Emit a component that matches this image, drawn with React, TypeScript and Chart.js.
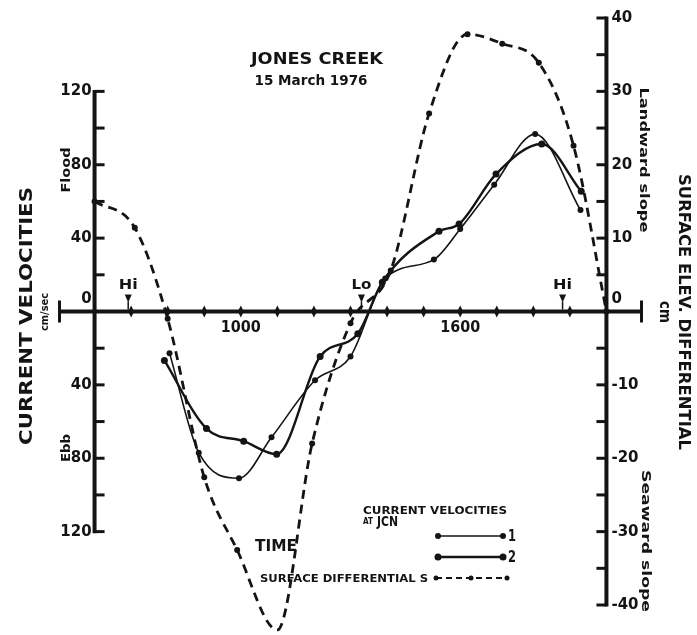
import React, { useEffect, useRef } from 'react';
import { Chart, registerables } from 'chart.js';

Chart.register(...registerables);

// ---- Data (time in decimal hours, 15 March 1976) ----
const surfaceTimes = [6.0, 7.1, 8.0, 9.0, 9.9, 11.0, 11.95, 13.0, 14.1, 15.15, 16.2, 17.15, 18.15, 19.1, 20.0];
const surfaceValues = [15, 11.4, -1, -22.6, -32.5, -43.4, -18, -1.6, 5.6, 27, 37.8, 36.5, 33.9, 22.6, 0];

const vel1Times = [8.05, 8.85, 9.95, 10.84, 12.03, 13.0, 13.95, 15.28, 16.0, 16.93, 18.05, 19.29];
const vel1Values = [-22.7, -77, -90.9, -68.6, -37.5, -24.5, 18, 28.3, 45, 69.1, 96.7, 55.3];

const vel2Times = [7.91, 9.06, 10.08, 10.98, 12.17, 13.2, 13.87, 15.42, 15.97, 16.98, 18.23, 19.31];
const vel2Values = [-26.7, -63.8, -70.7, -77.8, -24.5, -12.1, 16, 43.7, 47.7, 74.9, 91.3, 65.5];

const tideTimes = [6.92, 13.3, 18.8];
const tideLabels = ['Hi', 'Lo', 'Hi'];

const hourTicks = [7, 8, 9, 10, 11, 12, 13, 14, 15, 16, 17, 18, 19];
const hourLabelValues = [10, 16];
const hourLabels = ['1000', '1600'];

const leftTicks = [-120, -100, -80, -60, -40, -20, 0, 20, 40, 60, 80, 100, 120];
const leftLabelValues = [120, 80, 40, 0, -40, -80, -120];
const leftLabels = ['120', '80', '40', '0', '40', '80', '120'];

const rightTicks = [-40, -35, -30, -25, -20, -15, -10, -5, 0, 5, 10, 15, 20, 25, 30, 35, 40];
const rightLabelValues = [40, 30, 20, 10, 0, -10, -20, -30, -40];
const rightLabels = ['40', '30', '20', '10', '0', '-10', '-20', '-30', '-40'];

const X_MIN = 5, X_MAX = 21, LEFT_AXIS_AT = 6, RIGHT_AXIS_AT = 20;

const INK = '#141414';
const FONT = '"DejaVu Sans", sans-serif';

function txt(ctx: CanvasRenderingContext2D, s: string, x: number, y: number, o: any) {
  ctx.save();
  ctx.translate(x, y);
  if (o.rotate) ctx.rotate(o.rotate);
  ctx.font = `${o.weight || 'bold'} ${o.size}px ${o.family || FONT}`;
  ctx.textAlign = o.align || 'center';
  ctx.textBaseline = 'middle';
  ctx.fillStyle = INK;
  if (o.width) {
    const w = ctx.measureText(s).width;
    ctx.scale(o.width / w, 1);
  }
  ctx.fillText(s, 0, 0);
  ctx.restore();
}

const axesPlugin = {
  id: 'customAxes',
  beforeDatasetsDraw(chart: any) {
    const ctx: CanvasRenderingContext2D = chart.ctx;
    const xs = chart.scales.x, yL = chart.scales.yL, yR = chart.scales.yR;
    const y0 = yL.getPixelForValue(0);
    ctx.save();
    ctx.strokeStyle = INK;
    ctx.fillStyle = INK;
    ctx.lineCap = 'butt';

    // time axis
    const xa0 = xs.getPixelForValue(X_MIN), xa1 = xs.getPixelForValue(X_MAX);
    ctx.lineWidth = 4;
    ctx.beginPath(); ctx.moveTo(xa0, y0); ctx.lineTo(xa1, y0); ctx.stroke();
    ctx.lineWidth = 3;
    ctx.beginPath();
    ctx.moveTo(xa0 + 1.5, y0 - 11); ctx.lineTo(xa0 + 1.5, y0 + 11);
    ctx.moveTo(xa1 - 1.5, y0 - 11); ctx.lineTo(xa1 - 1.5, y0 + 11);
    ctx.stroke();
    hourTicks.forEach((t) => {
      const px = xs.getPixelForValue(t);
      ctx.beginPath();
      ctx.moveTo(px, y0 - 6); ctx.lineTo(px + 3, y0); ctx.lineTo(px, y0 + 6); ctx.lineTo(px - 3, y0);
      ctx.closePath(); ctx.fill();
    });

    // left axis
    const lx = xs.getPixelForValue(LEFT_AXIS_AT);
    ctx.lineWidth = 4;
    ctx.beginPath();
    ctx.moveTo(lx, yL.getPixelForValue(120) - 1.5);
    ctx.lineTo(lx, yL.getPixelForValue(-120) + 1.5);
    ctx.stroke();
    ctx.lineWidth = 3;
    leftTicks.forEach((v) => {
      if (v === 0) return;
      const py = yL.getPixelForValue(v);
      ctx.beginPath(); ctx.moveTo(lx, py); ctx.lineTo(lx + 10, py); ctx.stroke();
    });

    // right axis
    const rx = xs.getPixelForValue(RIGHT_AXIS_AT);
    ctx.lineWidth = 4;
    ctx.beginPath();
    ctx.moveTo(rx, yR.getPixelForValue(40) - 1.5);
    ctx.lineTo(rx, yR.getPixelForValue(-40) + 1.5);
    ctx.stroke();
    ctx.lineWidth = 3;
    rightTicks.forEach((v) => {
      if (v === 0) return;
      const py = yR.getPixelForValue(v);
      ctx.beginPath(); ctx.moveTo(rx, py); ctx.lineTo(rx - 10, py); ctx.stroke();
    });

    // tide markers
    tideTimes.forEach((t, i) => {
      const px = xs.getPixelForValue(t);
      ctx.beginPath();
      ctx.moveTo(px - 3.5, y0 - 17); ctx.lineTo(px + 3.5, y0 - 17); ctx.lineTo(px, y0 - 9);
      ctx.closePath(); ctx.fill();
      ctx.lineWidth = 1.5;
      ctx.beginPath(); ctx.moveTo(px, y0 - 10); ctx.lineTo(px, y0 - 2); ctx.stroke();
      txt(ctx, tideLabels[i], px, y0 - 26, { size: 14, width: tideLabels[i] === 'Hi' ? 19 : 20 });
    });
    ctx.restore();
  },
  afterDraw(chart: any) {
    const ctx: CanvasRenderingContext2D = chart.ctx;
    const xs = chart.scales.x, yL = chart.scales.yL, yR = chart.scales.yR;
    const y0 = yL.getPixelForValue(0);
    const lx = xs.getPixelForValue(LEFT_AXIS_AT);
    const rx = xs.getPixelForValue(RIGHT_AXIS_AT);

    // tick labels
    leftLabelValues.forEach((v, i) => {
      const py = yL.getPixelForValue(v) - (v === 0 ? 12 : 0);
      txt(ctx, leftLabels[i], lx - 3, py, { size: 15, align: 'right' });
    });
    rightLabelValues.forEach((v, i) => {
      const py = yR.getPixelForValue(v) - (v === 0 ? 12 : 0);
      txt(ctx, rightLabels[i], rx + 5, py, { size: 15, align: 'left' });
    });
    hourLabelValues.forEach((t, i) => {
      txt(ctx, hourLabels[i], xs.getPixelForValue(t), y0 + 17, { size: 15, width: 40 });
    });

    // titles
    txt(ctx, 'JONES CREEK', 317, 60, { size: 15, width: 132 });
    txt(ctx, '15 March 1976', 311, 81, { size: 14, width: 113 });
    txt(ctx, 'CURRENT VELOCITIES', 27, 316, { size: 18, rotate: -Math.PI / 2, width: 258 });
    txt(ctx, 'cm/sec', 45, 312, { size: 10, rotate: -Math.PI / 2, width: 38 });
    txt(ctx, 'Flood', 67, 170, { size: 13, rotate: -Math.PI / 2, width: 45 });
    txt(ctx, 'Ebb', 67, 448, { size: 13, rotate: -Math.PI / 2, width: 28 });
    txt(ctx, 'SURFACE ELEV. DIFFERENTIAL', 683, 312, { size: 16, rotate: Math.PI / 2, width: 276 });
    txt(ctx, 'cm', 664, 312, { size: 15, rotate: Math.PI / 2, width: 22 });
    txt(ctx, 'Landward slope', 643, 160, { size: 13, weight: '600', rotate: Math.PI / 2, width: 145 });
    txt(ctx, 'Seaward slope', 645, 541, { size: 13, weight: '600', rotate: Math.PI / 2, width: 142 });
    txt(ctx, 'TIME', 255, 547, { size: 16, align: 'left', width: 42 });

    // legend
    ctx.save();
    ctx.strokeStyle = INK; ctx.fillStyle = INK;
    txt(ctx, 'CURRENT VELOCITIES', 363, 511, { size: 10.5, align: 'left', width: 144 });
    txt(ctx, 'AT', 363, 522, { size: 8, align: 'left', width: 10 });
    txt(ctx, 'JCN', 377, 522, { size: 14, align: 'left', width: 21 });
    const ds = chart.data.datasets;
    const rows = [
      { d: ds[0], y: 536, label: '1' },
      { d: ds[1], y: 557, label: '2' },
    ];
    rows.forEach((r) => {
      ctx.lineWidth = r.d.borderWidth;
      ctx.setLineDash([]);
      ctx.beginPath(); ctx.moveTo(438, r.y); ctx.lineTo(503, r.y); ctx.stroke();
      [438, 503].forEach((px) => { ctx.beginPath(); ctx.arc(px, r.y, r.d.pointRadius, 0, Math.PI * 2); ctx.fill(); });
      txt(ctx, r.label, 508, r.y + 1, { size: 15, align: 'left', width: 8 });
    });
    txt(ctx, 'SURFACE DIFFERENTIAL S', 260, 579, { size: 10, align: 'left', width: 168 });
    ctx.lineWidth = 2;
    ctx.setLineDash([6, 4]);
    ctx.beginPath(); ctx.moveTo(436, 578); ctx.lineTo(507, 578); ctx.stroke();
    ctx.setLineDash([]);
    [436, 471, 507].forEach((px) => { ctx.beginPath(); ctx.arc(px, 578, 2.5, 0, Math.PI * 2); ctx.fill(); });
    ctx.restore();
  },
};

function pts(ts: number[], vs: number[]) {
  return ts.map((t, i) => ({ x: t, y: vs[i] }));
}

export default function App() {
  const ref = useRef<HTMLCanvasElement | null>(null);
  useEffect(() => {
    document.body.style.margin = '0';
    const c = ref.current;
    if (!c) return;
    const chart = new Chart(c, {
      type: 'line',
      data: {
        datasets: [
          {
            label: '1',
            data: pts(vel1Times, vel1Values),
            yAxisID: 'yL',
            borderColor: INK,
            backgroundColor: INK,
            borderWidth: 1.6,
            pointRadius: 3,
            pointBackgroundColor: INK,
            pointBorderWidth: 0,
            cubicInterpolationMode: 'monotone',
            fill: false,
          },
          {
            label: '2',
            data: pts(vel2Times, vel2Values),
            yAxisID: 'yL',
            borderColor: INK,
            backgroundColor: INK,
            borderWidth: 2.4,
            pointRadius: 3.5,
            pointBackgroundColor: INK,
            pointBorderWidth: 0,
            cubicInterpolationMode: 'monotone',
            fill: false,
          },
          {
            label: 'SURFACE DIFFERENTIALS',
            data: pts(surfaceTimes, surfaceValues),
            yAxisID: 'yR',
            borderColor: INK,
            backgroundColor: INK,
            borderWidth: 2.8,
            borderDash: [9, 6],
            pointRadius: 3,
            pointBackgroundColor: INK,
            pointBorderWidth: 0,
            cubicInterpolationMode: 'monotone',
            fill: false,
            clip: false,
          },
        ],
      } as any,
      options: {
        responsive: false,
        devicePixelRatio: 1,
        animation: false,
        events: [],
        layout: { padding: { left: 58, right: 54, top: 18, bottom: 30 } },
        plugins: { legend: { display: false }, tooltip: { enabled: false }, title: { display: false } },
        scales: {
          x: { type: 'linear', min: X_MIN, max: X_MAX, display: false },
          yL: { type: 'linear', min: -160, max: 160, display: false },
          yR: { type: 'linear', min: -40, max: 40, display: false },
        },
      } as any,
      plugins: [axesPlugin],
    });
    return () => chart.destroy();
  }, []);
  return (
    <div style={{ width: 697, height: 635, background: '#fff' }}>
      <canvas ref={ref} width={697} height={635} style={{ display: 'block' }} />
    </div>
  );
}
